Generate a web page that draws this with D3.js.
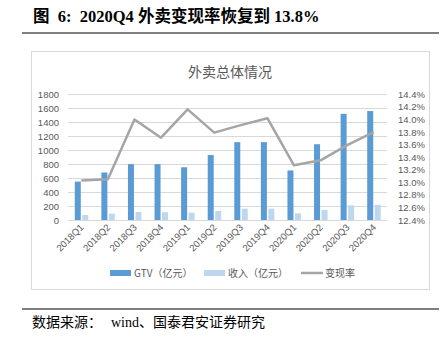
<!DOCTYPE html>
<html>
<head>
<meta charset="utf-8">
<script src="https://cdn.jsdelivr.net/npm/d3@7"></script>
<style>
  html, body { margin: 0; padding: 0; background: #fff; }
  svg { display: block; }
  text.pre { white-space: pre; }
</style>
</head>
<body>
<svg id="chart" width="446" height="338"></svg>
<script>
// Quarterly takeaway business overview
const quarters = ["2018Q1","2018Q2","2018Q3","2018Q4","2019Q1","2019Q2","2019Q3","2019Q4","2020Q1","2020Q2","2020Q3","2020Q4"];
const gtv      = [550, 680, 800, 800, 755, 930, 1115, 1115, 710, 1085, 1520, 1560];   // 亿元
const revenue  = [71, 90, 114, 112, 105, 129, 162, 162, 95, 143, 210, 219];            // 亿元
const takeRate = [13.03, 13.05, 14.0, 13.71, 14.16, 13.79, 13.91, 14.02, 13.27, 13.35, 13.59, 13.8]; // %
const leftTicks  = [0, 200, 400, 600, 800, 1000, 1200, 1400, 1600, 1800];
const rightTicks = [12.4, 12.6, 12.8, 13.0, 13.2, 13.4, 13.6, 13.8, 14.0, 14.2, 14.4];

const svg = d3.select("#chart");
const serif = "'Liberation Serif','DejaVu Serif','Noto Sans CJK SC',serif";
const sans = "'Liberation Sans','Noto Sans CJK SC',sans-serif";
const cjk = "'Noto Sans CJK SC',sans-serif";
const axisGray = "#595959";

// Header
svg.append("text").attr("class", "pre")
  .attr("x", 33).attr("y", 22)
  .attr("font-family", serif).attr("font-weight", "bold").attr("font-size", 16.5)
  .attr("fill", "#000")
  .text("图  6:  2020Q4 外卖变现率恢复到 13.8%");
svg.append("line").attr("x1", 22).attr("x2", 439).attr("y1", 33).attr("y2", 33)
  .attr("stroke", "#555").attr("stroke-width", 1.6);

// Chart frame
svg.append("rect").attr("x", 31.5).attr("y", 51.5).attr("width", 398).attr("height", 238)
  .attr("fill", "#fff").attr("stroke", "#d9d9d9").attr("stroke-width", 1);

svg.append("text").attr("x", 230).attr("y", 77).attr("text-anchor", "middle")
  .attr("font-family", cjk).attr("font-size", 14).attr("fill", axisGray)
  .text("外卖总体情况");

// Scales
const x = d3.scaleBand().domain(quarters).range([68, 387]);
const yL = d3.scaleLinear().domain([0, 1800]).range([220, 94.3]);
const yR = d3.scaleLinear().domain([12.4, 14.4]).range([220, 94.3]);

// Gridlines
svg.append("g").selectAll("line").data(leftTicks).join("line")
  .attr("x1", 68).attr("x2", 387)
  .attr("y1", d => Math.round(yL(d)) + 0.5).attr("y2", d => Math.round(yL(d)) + 0.5)
  .attr("stroke", "#d9d9d9").attr("stroke-width", 1);

// Left axis
const leftAxis = svg.append("g").attr("transform", "translate(62,0)")
  .call(d3.axisLeft(yL).tickValues(leftTicks).tickSize(0).tickPadding(3).tickFormat(d3.format("d")));
leftAxis.select(".domain").remove();
leftAxis.selectAll("text").attr("font-family", sans).attr("font-size", 9.5).attr("fill", axisGray);

// Right axis
const rightAxis = svg.append("g").attr("transform", "translate(395,0)")
  .call(d3.axisRight(yR).tickValues(rightTicks).tickSize(0).tickPadding(3)
    .tickFormat(d => d.toFixed(1) + "%"));
rightAxis.select(".domain").remove();
rightAxis.selectAll("text").attr("font-family", sans).attr("font-size", 9.5).attr("fill", axisGray);

// Bars
const bw = 6;
svg.append("g").selectAll("rect").data(quarters).join("rect")
  .attr("x", (d) => x(d) + x.bandwidth() / 2 - bw - 0.5)
  .attr("y", (d, i) => yL(gtv[i]))
  .attr("width", bw)
  .attr("height", (d, i) => yL(0) - yL(gtv[i]))
  .attr("fill", "#5b9bd5");
svg.append("g").selectAll("rect").data(quarters).join("rect")
  .attr("x", (d) => x(d) + x.bandwidth() / 2 + 1)
  .attr("y", (d, i) => yL(revenue[i]))
  .attr("width", bw)
  .attr("height", (d, i) => yL(0) - yL(revenue[i]))
  .attr("fill", "#bdd7ee");

// Take-rate line
const line = d3.line()
  .x((d, i) => x(quarters[i]) + x.bandwidth() / 2)
  .y(d => yR(d));
svg.append("path").datum(takeRate).attr("d", line)
  .attr("fill", "none").attr("stroke", "#a5a5a5").attr("stroke-width", 2.5)
  .attr("stroke-linejoin", "round");

// Category labels
svg.append("g").selectAll("text").data(quarters).join("text")
  .attr("transform", d => `translate(${x(d) + x.bandwidth() / 2 + 3},${228}) rotate(-45)`)
  .attr("text-anchor", "end")
  .attr("font-family", sans).attr("font-size", 9.5).attr("fill", axisGray)
  .text(d => d);

// Legend
const legend = svg.append("g").attr("font-family", cjk).attr("font-size", 10).attr("fill", axisGray);
const legY = 273;
legend.append("rect").attr("x", 110).attr("y", legY - 3).attr("width", 21).attr("height", 6).attr("fill", "#5b9bd5");
legend.append("text").attr("x", 134).attr("y", legY + 3.5).text("GTV（亿元）");
legend.append("rect").attr("x", 204).attr("y", legY - 3).attr("width", 21).attr("height", 6).attr("fill", "#bdd7ee");
legend.append("text").attr("x", 228).attr("y", legY + 3.5).text("收入（亿元）");
legend.append("line").attr("x1", 301).attr("x2", 323).attr("y1", legY).attr("y2", legY)
  .attr("stroke", "#a5a5a5").attr("stroke-width", 2.5);
legend.append("text").attr("x", 325).attr("y", legY + 3.5).text("变现率");

// Footer
svg.append("line").attr("x1", 22).attr("x2", 439).attr("y1", 309).attr("y2", 309)
  .attr("stroke", "#555").attr("stroke-width", 1.6);
const footer = svg.append("g").attr("font-family", serif).attr("font-size", 14).attr("fill", "#000");
footer.append("text").attr("x", 32).attr("y", 327).text("数据来源：");
footer.append("text").attr("x", 111).attr("y", 327).text("wind、国泰君安证券研究");
</script>
</body>
</html>
